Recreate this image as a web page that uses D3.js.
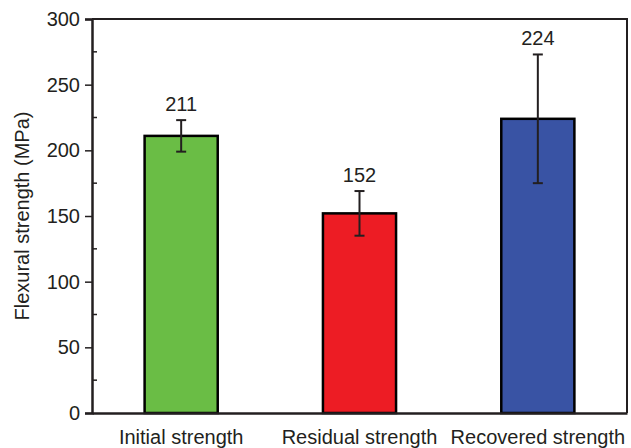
<!DOCTYPE html>
<html>
<head>
<meta charset="utf-8">
<script src="https://cdn.jsdelivr.net/npm/d3@7"></script>
<style>
  body { margin: 0; background: #fff; }
  svg text { font-family: "Liberation Sans", Arial, sans-serif; fill: #231f20; }
</style>
</head>
<body>
<svg width="631" height="448"></svg>
<script>
// Chart data
var categories = ['Initial strength', 'Residual strength', 'Recovered strength'];
var strengths = [211, 152, 224];
var errors = [12, 17, 49];
var barColors = ['#6abd45', '#ed1c24', '#3953a4'];
var yTicks = [0, 50, 100, 150, 200, 250, 300];

var svg = d3.select('svg');
var padding = {t: 19, r: 4, b: 35, l: 92};
var svgWidth = +svg.attr('width');
var svgHeight = +svg.attr('height');
var chartWidth = svgWidth - padding.l - padding.r;
var chartHeight = svgHeight - padding.t - padding.b;

var chartG = svg.append('g')
    .attr('transform', 'translate(' + [padding.l, padding.t] + ')');

var xScale = d3.scaleBand()
    .domain(categories)
    .range([0, chartWidth])
    .paddingInner(0.59)
    .paddingOuter(0.295);

var yScale = d3.scaleLinear()
    .domain([0, 300])
    .range([chartHeight, 0]);

// Minor ticks inside the left axis
chartG.selectAll('.minor')
    .data(d3.range(25, 300, 50))
    .enter()
    .append('line')
    .attr('x1', 0)
    .attr('x2', 5)
    .attr('y1', function(d) { return yScale(d); })
    .attr('y2', function(d) { return yScale(d); })
    .attr('stroke', '#231f20')
    .attr('stroke-width', 1.5);

// Bars
chartG.selectAll('.bar')
    .data(strengths)
    .enter()
    .append('rect')
    .attr('class', 'bar')
    .attr('x', function(d, i) { return xScale(categories[i]); })
    .attr('y', function(d) { return yScale(d); })
    .attr('width', xScale.bandwidth())
    .attr('height', function(d) { return chartHeight - yScale(d); })
    .attr('fill', function(d, i) { return barColors[i]; })
    .attr('stroke', '#000')
    .attr('stroke-width', 2.5);

// Error bars
var errG = chartG.selectAll('.err')
    .data(strengths)
    .enter()
    .append('g')
    .attr('class', 'err')
    .attr('stroke', '#231f20')
    .attr('stroke-width', 2);

errG.append('line')
    .attr('x1', function(d, i) { return xScale(categories[i]) + xScale.bandwidth() / 2; })
    .attr('x2', function(d, i) { return xScale(categories[i]) + xScale.bandwidth() / 2; })
    .attr('y1', function(d, i) { return yScale(d + errors[i]); })
    .attr('y2', function(d, i) { return yScale(d - errors[i]); });

[1, -1].forEach(function(sign) {
    errG.append('line')
        .attr('x1', function(d, i) { return xScale(categories[i]) + xScale.bandwidth() / 2 - 5; })
        .attr('x2', function(d, i) { return xScale(categories[i]) + xScale.bandwidth() / 2 + 5; })
        .attr('y1', function(d, i) { return yScale(d + sign * errors[i]); })
        .attr('y2', function(d, i) { return yScale(d + sign * errors[i]); });
});

// Value labels
chartG.selectAll('.label')
    .data(strengths)
    .enter()
    .append('text')
    .attr('class', 'label')
    .attr('x', function(d, i) { return xScale(categories[i]) + xScale.bandwidth() / 2; })
    .attr('y', function(d, i) { return yScale(d + errors[i]) - 9; })
    .style('text-anchor', 'middle')
    .style('font-size', '20px')
    .text(function(d) { return d; });

// Frame (top and right)
chartG.append('path')
    .attr('d', 'M0,0H' + chartWidth + 'V' + chartHeight)
    .attr('fill', 'none')
    .attr('stroke', '#231f20')
    .attr('stroke-width', 2);

// Left axis
var yAxis = chartG.append('g')
    .call(d3.axisLeft(yScale).tickValues(yTicks).tickSize(7).tickPadding(5));
yAxis.select('.domain').attr('stroke', '#231f20').attr('stroke-width', 2.5);
yAxis.selectAll('.tick line').attr('stroke', '#231f20').attr('stroke-width', 1.5);
yAxis.selectAll('.tick text')
    .style('font-size', '20px')
    .style('font-family', '"Liberation Sans", Arial, sans-serif')
    .attr('fill', '#231f20');

// Bottom axis
var xAxis = chartG.append('g')
    .attr('transform', 'translate(0,' + chartHeight + ')')
    .call(d3.axisBottom(xScale).tickSize(0).tickPadding(17));
xAxis.select('.domain').attr('stroke', '#231f20').attr('stroke-width', 2.5);
xAxis.selectAll('.tick text')
    .style('font-size', '20px')
    .style('font-family', '"Liberation Sans", Arial, sans-serif')
    .attr('fill', '#231f20');

// Axis title
svg.append('text')
    .attr('transform', 'translate(29,' + (padding.t + chartHeight / 2) + ') rotate(-90)')
    .style('text-anchor', 'middle')
    .style('font-size', '20px')
    .text('Flexural strength (MPa)');
</script>
</body>
</html>
